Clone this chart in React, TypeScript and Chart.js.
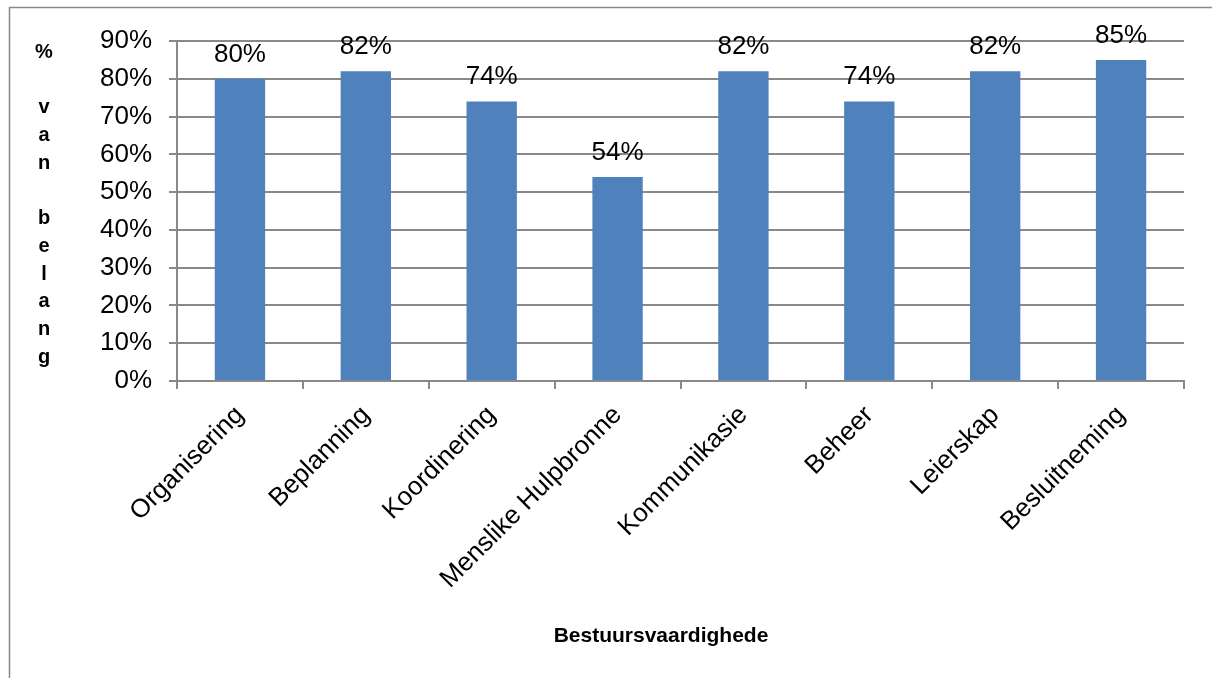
import React, { useEffect, useRef } from "react";
import { Chart, registerables } from "chart.js";

Chart.register(...registerables);

const categories: string[] = [
  "Organisering",
  "Beplanning",
  "Koordinering",
  "Menslike Hulpbronne",
  "Kommunikasie",
  "Beheer",
  "Leierskap",
  "Besluitneming",
];
const values: number[] = [80, 82, 74, 54, 82, 74, 82, 85];
const yTitleLetters: string[] = ["%", "", "v", "a", "n", "", "b", "e", "l", "a", "n", "g"];
const xTitle = "Bestuursvaardighede";

const FONT = "'Liberation Sans', Arial, sans-serif";
const GRAY = "#898989";

const decorPlugin = {
  id: "decor",
  beforeDraw(chart: any) {
    const ctx = chart.ctx;
    ctx.save();
    ctx.strokeStyle = GRAY;
    ctx.lineWidth = 1.5;
    ctx.beginPath();
    ctx.moveTo(9.5, 678);
    ctx.lineTo(9.5, 7.5);
    ctx.lineTo(1212, 7.5);
    ctx.stroke();
    ctx.restore();
  },
  afterDraw(chart: any) {
    const ctx = chart.ctx;
    ctx.save();
    ctx.fillStyle = "#000";
    // data labels
    ctx.font = `26px ${FONT}`;
    ctx.textAlign = "center";
    ctx.textBaseline = "alphabetic";
    const meta = chart.getDatasetMeta(0);
    meta.data.forEach((bar: any, i: number) => {
      ctx.fillText(`${values[i]}%`, bar.x, bar.y - 17);
    });
    // y title letters
    ctx.font = `bold 20px ${FONT}`;
    yTitleLetters.forEach((ch, i) => {
      if (ch) ctx.fillText(ch, 44, 57.5 + i * 27.75);
    });
    // x title
    ctx.font = `bold 21px ${FONT}`;
    ctx.fillText(xTitle, 661, 642);
    ctx.restore();
  },
};

export default function App() {
  const ref = useRef<HTMLCanvasElement | null>(null);
  useEffect(() => {
    if (!ref.current) return;
    const chart = new Chart(ref.current, {
      type: "bar",
      data: {
        labels: categories,
        datasets: [
          {
            data: values,
            backgroundColor: "#4F81BD",
            borderWidth: 0,
            categoryPercentage: 1,
            barPercentage: 0.4,
          },
        ],
      },
      options: {
        animation: false,
        responsive: false,
        maintainAspectRatio: false,
        layout: { padding: { left: 0, top: 41, right: 28, bottom: 0 } },
        plugins: {
          legend: { display: false },
          tooltip: { enabled: false },
          title: { display: false },
        },
        scales: {
          x: {
            afterFit: (s: any) => {
              s.height = 297;
            },
            grid: {
              display: true,
              drawOnChartArea: false,
              drawTicks: true,
              tickLength: 8,
              color: GRAY,
              lineWidth: 2,
              offset: true,
            },
            border: { display: true, color: GRAY, width: 2 },
            ticks: {
              color: "#000",
              font: { size: 26, family: FONT },
              minRotation: 45,
              maxRotation: 45,
              autoSkip: false,
              padding: 11,
            },
          },
          y: {
            min: 0,
            max: 90,
            afterFit: (s: any) => {
              s.width = 177;
            },
            grid: {
              color: GRAY,
              drawTicks: true,
              tickLength: 8,
              lineWidth: 2,
            },
            border: { display: true, color: GRAY, width: 2 },
            ticks: {
              stepSize: 10,
              color: "#000",
              font: { size: 26, family: FONT },
              padding: 17,
              callback: (v: any) => `${v}%`,
            },
          },
        },
      },
      plugins: [decorPlugin],
    });
    return () => chart.destroy();
  }, []);
  return (
    <div style={{ position: "fixed", left: 0, top: 0, width: 1212, height: 678, background: "#fff" }}>
      <canvas ref={ref} width={1212} height={678} style={{ display: "block", width: 1212, height: 678 }} />
    </div>
  );
}
